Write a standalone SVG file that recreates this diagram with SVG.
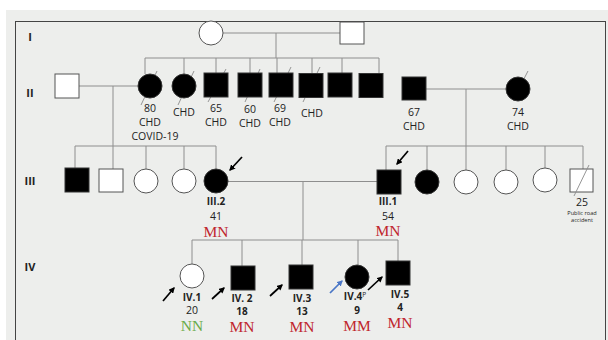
<svg xmlns="http://www.w3.org/2000/svg" width="608" height="340" viewBox="0 0 608 340">
<defs>
<marker id="ah" viewBox="0 0 10 10" refX="8" refY="5" markerWidth="3.6" markerHeight="3.6" orient="auto" markerUnits="strokeWidth"><path d="M0,0 L10,5 L0,10 z" fill="#000"/></marker>
<marker id="ahb" viewBox="0 0 10 10" refX="8" refY="5" markerWidth="3.6" markerHeight="3.6" orient="auto" markerUnits="strokeWidth"><path d="M0,0 L10,5 L0,10 z" fill="#4a76c6"/></marker>
<style>
.ln{stroke:#8e8e8e;stroke-width:1;fill:none}
.sl{stroke:#8a8a8a;stroke-width:0.9;fill:none}
.w{fill:#fff;stroke:#555;stroke-width:1}
.b{fill:#000;stroke:#333;stroke-width:1}
.t{font-family:"Open Sans","Noto Sans",sans-serif;font-size:10.5px;fill:#222;text-anchor:middle}
.bt{font-family:"Open Sans","Noto Sans",sans-serif;font-size:10px;font-weight:bold;fill:#222;text-anchor:middle}
.g{font-family:"Open Sans","Noto Sans",sans-serif;font-size:11px;font-weight:bold;fill:#222;text-anchor:middle}
.mn{font-family:"Liberation Serif","Times New Roman",serif;font-size:15.5px;fill:#c0262d;text-anchor:middle}
.nn{font-family:"Liberation Serif","Times New Roman",serif;font-size:15.5px;fill:#6aab4a;text-anchor:middle}
.sm{font-family:"Open Sans","Noto Sans",sans-serif;font-size:5.6px;fill:#222;text-anchor:middle}
.ar{stroke:#000;stroke-width:1.7;marker-end:url(#ah)}
.arb{stroke:#4a76c6;stroke-width:1.7;marker-end:url(#ahb)}
</style>
</defs>
<rect x="0" y="0" width="608" height="340" fill="#fff"/>
<rect x="6" y="10" width="602" height="330" fill="#edeeec"/>
<rect x="15.5" y="21.5" width="590" height="330" fill="none" stroke="#444" stroke-width="1"/>

<g id="gen-labels">
<text class="g" x="30" y="41">I</text>
<text class="g" x="30" y="97">II</text>
<text class="g" x="30" y="185">III</text>
<text class="g" x="30" y="271">IV</text>
</g>

<g id="connectors">
<path class="ln" d="M223,33 H340 M276,33 V58 M145,58 H379 M145,58 V74 M184,58 V74 M216,58 V73 M250,58 V73 M277,58 V73 M312,58 V73 M342,58 V73 M379,58 V73"/>
<path class="ln" d="M79,86 H138 M113,86 V146 M75,146 H216 M75,146 V168 M113,146 V169 M146,146 V169 M184,146 V169 M216,146 V169"/>
<path class="ln" d="M426,89 H506 M466,89 V146 M386,146 H583 M386,146 V170 M427,146 V170 M466,146 V170 M506,146 V170 M545,146 V168 M583,146 V169"/>
<path class="ln" d="M228,181.5 H377 M303,181.5 V240 M192,240 H398 M192,240 V264 M242,240 V266 M302,240 V265 M358,240 V265 M398,240 V261"/>
</g>

<g id="I-1"><circle class="w" cx="211" cy="33" r="12"/></g>
<g id="I-2"><rect class="w" x="340" y="22" width="24" height="22"/></g>

<g id="II-spouse"><rect class="w" x="55" y="74" width="24" height="24"/></g>
<g id="II-1"><line class="sl" x1="141" y1="105" x2="157" y2="71"/><circle class="b" cx="150" cy="86" r="12"/>
<text class="t" x="150" y="112">80</text><text class="t" x="150" y="126">CHD</text><text class="t" x="155" y="140">COVID-19</text></g>
<g id="II-2"><line class="sl" x1="178" y1="105" x2="194" y2="71"/><circle class="b" cx="184" cy="86" r="12"/>
<text class="t" x="184" y="116">CHD</text></g>
<g id="II-3"><line class="sl" x1="208" y1="102" x2="226" y2="69"/><rect class="b" x="204" y="73" width="24" height="24"/>
<text class="t" x="216" y="112">65</text><text class="t" x="216" y="126">CHD</text></g>
<g id="II-4"><line class="sl" x1="245" y1="102" x2="260" y2="69"/><rect class="b" x="238" y="73" width="24" height="24"/>
<text class="t" x="250" y="113">60</text><text class="t" x="250" y="127">CHD</text></g>
<g id="II-5"><line class="sl" x1="274" y1="102" x2="291" y2="67"/><rect class="b" x="269" y="73" width="24" height="24"/>
<text class="t" x="280" y="112">69</text><text class="t" x="280" y="126">CHD</text></g>
<g id="II-6"><line class="sl" x1="303" y1="102" x2="320" y2="67"/><rect class="b" x="299" y="73.5" width="24" height="24"/>
<text class="t" x="312" y="117">CHD</text></g>
<g id="II-7"><rect class="b" x="328" y="73" width="24" height="24"/></g>
<g id="II-8"><rect class="b" x="359" y="73.5" width="24" height="24"/></g>
<g id="II-9"><rect class="b" x="402" y="77" width="24" height="23"/>
<text class="t" x="414" y="116">67</text><text class="t" x="414" y="130">CHD</text></g>
<g id="II-10"><line class="sl" x1="513" y1="100" x2="528" y2="71"/><circle class="b" cx="518" cy="89" r="12"/>
<text class="t" x="518" y="116">74</text><text class="t" x="518" y="130">CHD</text></g>

<g id="III-a"><rect class="b" x="65" y="168" width="24" height="24"/></g>
<g id="III-b"><rect class="w" x="99" y="169" width="24" height="23"/></g>
<g id="III-c"><circle class="w" cx="146" cy="181" r="12"/></g>
<g id="III-d"><circle class="w" cx="184" cy="181" r="12"/></g>
<g id="III-2"><circle class="b" cx="216" cy="181" r="12"/>
<line class="ar" x1="242" y1="157" x2="230" y2="170"/>
<text class="bt" x="216" y="205">III.2</text><text class="t" x="216" y="220">41</text><text class="mn" x="216" y="237">MN</text></g>
<g id="III-1"><rect class="b" x="377" y="170" width="24" height="24"/>
<line class="ar" x1="408" y1="151" x2="397" y2="164"/>
<text class="bt" x="388" y="205">III.1</text><text class="t" x="388" y="220">54</text><text class="mn" x="388" y="236">MN</text></g>
<g id="III-e"><circle class="b" cx="427" cy="182" r="12"/></g>
<g id="III-f"><circle class="w" cx="466" cy="182" r="12"/></g>
<g id="III-g"><circle class="w" cx="506" cy="182" r="12"/></g>
<g id="III-h"><circle class="w" cx="545" cy="180" r="12"/></g>
<g id="III-i"><rect class="w" x="570" y="169" width="23" height="23"/>
<line class="sl" x1="574" y1="196" x2="589" y2="165"/>
<text class="t" x="582" y="206">25</text><text class="sm" x="582" y="215">Public road</text><text class="sm" x="582" y="222">accident</text></g>

<g id="IV-1"><circle class="w" cx="192" cy="276" r="12"/>
<line class="ar" x1="163" y1="301" x2="174" y2="288"/>
<text class="bt" x="192" y="301">IV.1</text><text class="t" x="192" y="314">20</text><text class="nn" x="192" y="331">NN</text></g>
<g id="IV-2"><rect class="b" x="231" y="266" width="24" height="24"/>
<line class="ar" x1="212" y1="299" x2="224" y2="288"/>
<text class="bt" x="242" y="302">IV. 2</text><text class="bt" x="242" y="315">18</text><text class="mn" x="242" y="332">MN</text></g>
<g id="IV-3"><rect class="b" x="289" y="265" width="24" height="24"/>
<line class="ar" x1="270" y1="296" x2="282" y2="285"/>
<text class="bt" x="302" y="302">IV.3</text><text class="bt" x="302" y="314.5">13</text><text class="mn" x="302" y="331.5">MN</text></g>
<g id="IV-4"><circle class="b" cx="357" cy="277" r="12"/>
<line class="arb" x1="330" y1="293" x2="342" y2="281"/>
<text class="bt" x="355" y="300">IV.4<tspan font-size="6.5px" font-weight="normal" dy="-3">P</tspan></text><text class="bt" x="357" y="313.5">9</text><text class="mn" x="357" y="330.5">MM</text></g>
<g id="IV-5"><rect class="b" x="386" y="261" width="24" height="24"/>
<line class="ar" x1="368" y1="290" x2="382" y2="277"/>
<text class="bt" x="400" y="298">IV.5</text><text class="bt" x="400" y="311">4</text><text class="mn" x="400" y="328">MN</text></g>
</svg>
